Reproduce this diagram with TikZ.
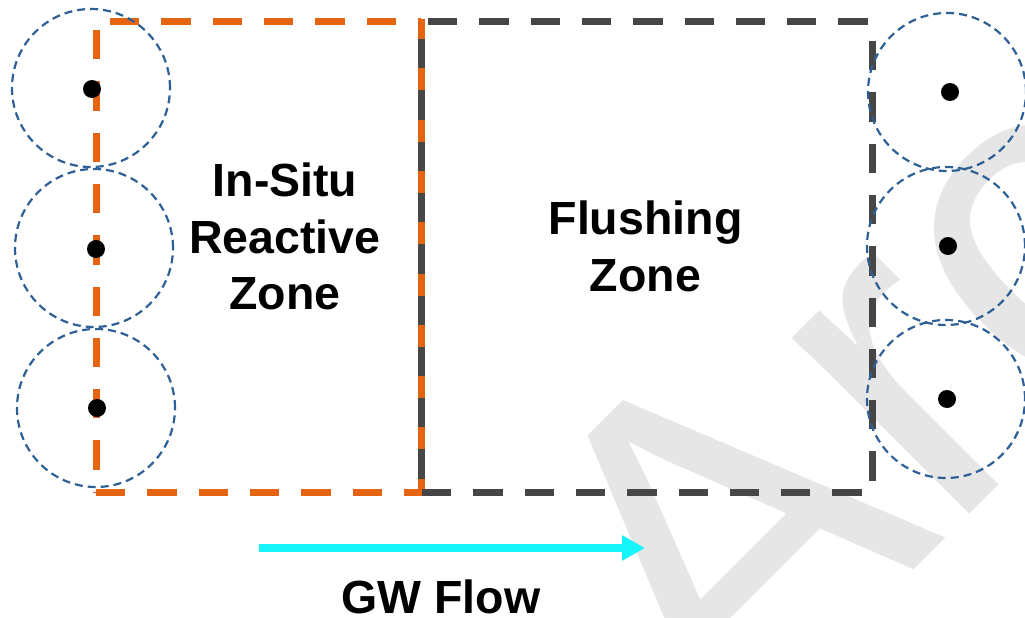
\documentclass[tikz,border=0pt]{standalone}
\usepackage{fontspec}
\setmainfont{Liberation Sans}
\usetikzlibrary{arrows.meta}
\definecolor{zoneorange}{RGB}{228,100,18}
\definecolor{zonegrey}{RGB}{70,70,70}
\definecolor{wellblue}{RGB}{46,96,150}
\definecolor{flowcyan}{RGB}{22,245,250}
\definecolor{wmgrey}{RGB}{230,230,230}
\begin{document}
\begin{tikzpicture}[x=1pt,y=-1pt,
  zoneedge/.style={line width=7pt, dash pattern=on 29.3pt off 22pt},
  orangeedge/.style={zoneedge, draw=zoneorange},
  greyedge/.style={zoneedge, draw=zonegrey},
  wellzone/.style={circle, draw=wellblue, line width=2.2pt, dash pattern=on 8pt off 5pt, minimum size=158pt, inner sep=0pt},
  well/.style={circle, fill=black, minimum size=18pt, inner sep=0pt},
  zonetext/.style={font=\fontsize{46.5}{56.7}\selectfont\bfseries, align=center, inner sep=0pt}
]
\useasboundingbox (0,0) rectangle (1025,618);
% watermark
\begin{scope}
\clip (0,0) rectangle (1025,618);
\node[text=wmgrey, font=\fontsize{473}{473}\selectfont, rotate=45, anchor=base west, inner sep=0pt] (wm) at (723,761) {Arc};
\end{scope}
% zone corners
\coordinate (oTL) at (96,22);
\coordinate (oBL) at (96,492);
\coordinate (mT) at (421,19);
\coordinate (mB) at (421,495.5);
% orange zone
\draw[draw=zoneorange, line width=7pt] (mT) -- (mB);
\draw[orangeedge] (oBL) -- (421,492);
\draw[orangeedge] (110,22) -- (421,22);
\draw[orangeedge] (96,30) -- (oBL);
% grey zone
\draw[greyedge] (421,39) -- (421,492);
\draw[greyedge] (428,22) -- (872,22);
\draw[greyedge] (872,41) -- (872,492);
\draw[greyedge] (422,492) -- (872,492);
% radius-of-influence circles
\node[wellzone] (r1) at (91,88) {};
\node[wellzone] (r2) at (94,248) {};
\node[wellzone] (r3) at (96,408) {};
\node[wellzone] (r4) at (947,92) {};
\node[wellzone] (r5) at (946,246) {};
\node[wellzone] (r6) at (946,399) {};
% wells
\node[well] (w1) at (92,89) {};
\node[well] (w2) at (96,249) {};
\node[well] (w3) at (97,408) {};
\node[well] (w4) at (950,92) {};
\node[well] (w5) at (948,246) {};
\node[well] (w6) at (947,399) {};
% labels
\node[zonetext] (insitu) at (285,236.5) {In-Situ\\Reactive\\Zone};
\node[zonetext] (flushing) at (645.5,246.5) {Flushing\\Zone};
\node[zonetext, anchor=base] (gwflow) at (441,613) {GW Flow};
% flow arrow
\coordinate (flowstart) at (259,548);
\coordinate (flowend) at (645,548);
\draw[flowcyan, line width=8pt, -{Triangle[length=23pt,width=24pt]}] (flowstart) -- (flowend);
\end{tikzpicture}
\end{document}
